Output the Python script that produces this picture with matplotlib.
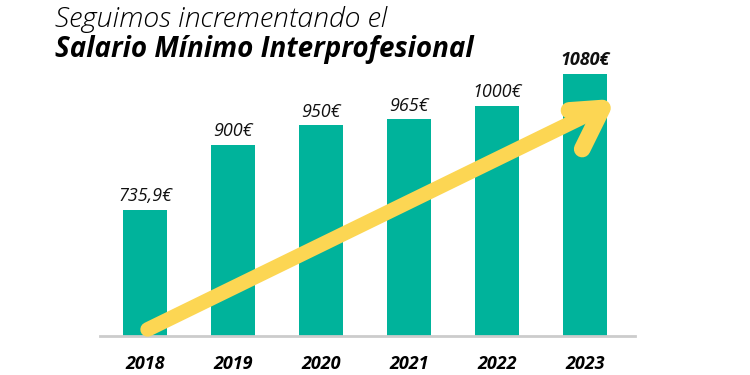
import matplotlib.pyplot as plt

# Datos
years = ['2018', '2019', '2020', '2021', '2022', '2023']
salario = [735.9, 900, 950, 965, 1000, 1080]
etiquetas = ['735,9€', '900€', '950€', '965€', '1000€', '1080€']

plt.rcParams['font.family'] = ['Open Sans', 'DejaVu Sans']

verde = '#00b39b'
amarillo = '#fcd653'

fig = plt.figure(figsize=(7.5, 3.75), dpi=100)
ax = fig.add_axes([100 / 750, 1 - 336 / 375, 535 / 750, 276 / 375])

x = list(range(len(years)))
ax.bar(x, salario, width=0.5, color=verde, zorder=2)

ax.set_xlim(-0.511, 5.57)
ax.set_ylim(415.4, 1116)

for i, (v, t) in enumerate(zip(salario, etiquetas)):
    ax.text(i, v + 12, t, ha='center', va='bottom', fontsize=13,
            style='italic', fontweight='bold' if i == len(years) - 1 else 'normal',
            color='#111111')

# Flecha amarilla
ax.plot([0.03, 5.15], [432, 990], color=amarillo, lw=10.5,
        solid_capstyle='round', zorder=3, clip_on=False)
ax.plot([4.82, 5.2, 4.97], [988, 994, 890], color=amarillo, lw=12,
        solid_capstyle='round', solid_joinstyle='round', zorder=3, clip_on=False)

for s in ['top', 'left', 'right']:
    ax.spines[s].set_visible(False)
ax.spines['bottom'].set_color('#cccccc')
ax.spines['bottom'].set_linewidth(2)
ax.set_yticks([])
ax.set_xticks(x)
ax.set_xticklabels(years, fontsize=13, style='italic', fontweight='bold')
ax.tick_params(axis='x', length=0, pad=14)

fig.text(55 / 750, 1 - 27 / 375, 'Seguimos incrementando el', fontsize=20.5,
         style='italic', fontweight='light', ha='left', va='baseline')
fig.text(55 / 750, 1 - 57 / 375, 'Salario Mínimo Interprofesional', fontsize=20,
         style='italic', fontweight='bold', ha='left', va='baseline')

fig.savefig('out.png', dpi=100)
